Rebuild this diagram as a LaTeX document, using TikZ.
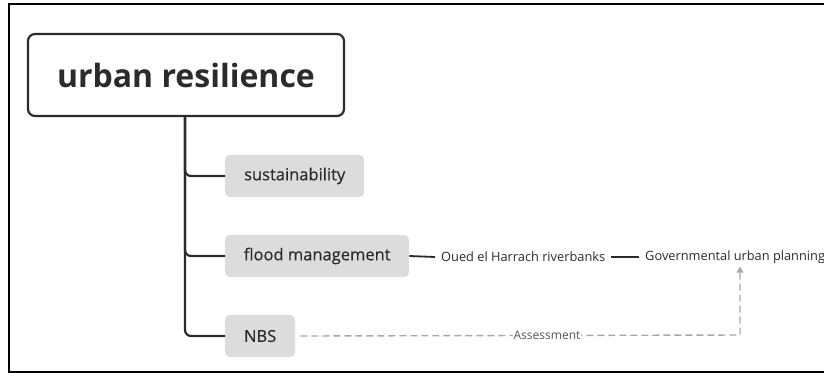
\documentclass[tikz,border=0pt]{standalone}
\usepackage{fontspec}
\setmainfont{Open Sans}
\newfontfamily\topicfont[FakeBold=0.4]{Open Sans}
\usetikzlibrary{arrows.meta}

\definecolor{ink}{HTML}{2B2B2B}
\definecolor{boxgray}{HTML}{DCDCDC}
\definecolor{dashgray}{HTML}{A8A8A8}

\begin{document}
\begin{tikzpicture}[x=1pt, y=-1pt,
  rootbox/.style={draw=ink, line width=2.2pt, rounded corners=7pt, fill=white,
    minimum width=316pt, minimum height=82pt, text=ink,
    font=\fontsize{32}{38}\selectfont\bfseries},
  topic/.style={fill=boxgray, rounded corners=5pt, minimum height=42pt,
    anchor=west, text=ink, font=\fontsize{16.5}{20}\topicfont},
  leaf/.style={text=ink, inner sep=6pt, anchor=west, font=\fontsize{12.8}{15}\selectfont},
  trunk/.style={draw=ink, line width=2.2pt, rounded corners=6pt},
  twig/.style={draw=ink, line width=1.8pt},
  relation/.style={draw=dashgray, line width=1.4pt, dash pattern=on 7pt off 4pt,
    -{Triangle[width=7pt,length=6pt]}},
  rellabel/.style={fill=white, inner sep=1pt, text=ink!80,
    font=\fontsize{12}{14}\selectfont}]

\useasboundingbox (0,0) rectangle (824,376);

% outer frame
\draw[black, line width=2.5pt] (9,4) rectangle (840,372);

% central topic and main branches
\node[rootbox] (root) at (186,75) {urban resilience};
\node[topic, minimum width=139pt] (sust) at (225,176) {sustainability};
\node[topic, minimum width=184pt] (flood) at (225,256) {flood management};
\node[topic, minimum width=70pt] (nbs) at (225,336) {NBS};

% sub-branches of flood management
\node[leaf] (oued) at (435,257) {Oued el Harrach riverbanks};
\node[leaf] (gov) at (639,257) {Governmental urban planning};

% tree connectors
\draw[trunk] (root.south -| 185,0) |- (sust.west);
\draw[trunk] (root.south -| 185,0) |- (flood.west);
\draw[trunk] (root.south -| 185,0) |- (nbs.west);
\draw[twig] (flood.east) -- (oued.west);
\draw[twig] (oued.east) -- (gov.west);

% relationship from NBS to planning
\coordinate (turn) at (740,335);
\draw[relation] ([xshift=5pt]nbs.east) -- (turn) -- ([yshift=3pt]gov.south -| turn);
\node[rellabel] (assess) at (547,335) {Assessment};

\end{tikzpicture}
\end{document}
